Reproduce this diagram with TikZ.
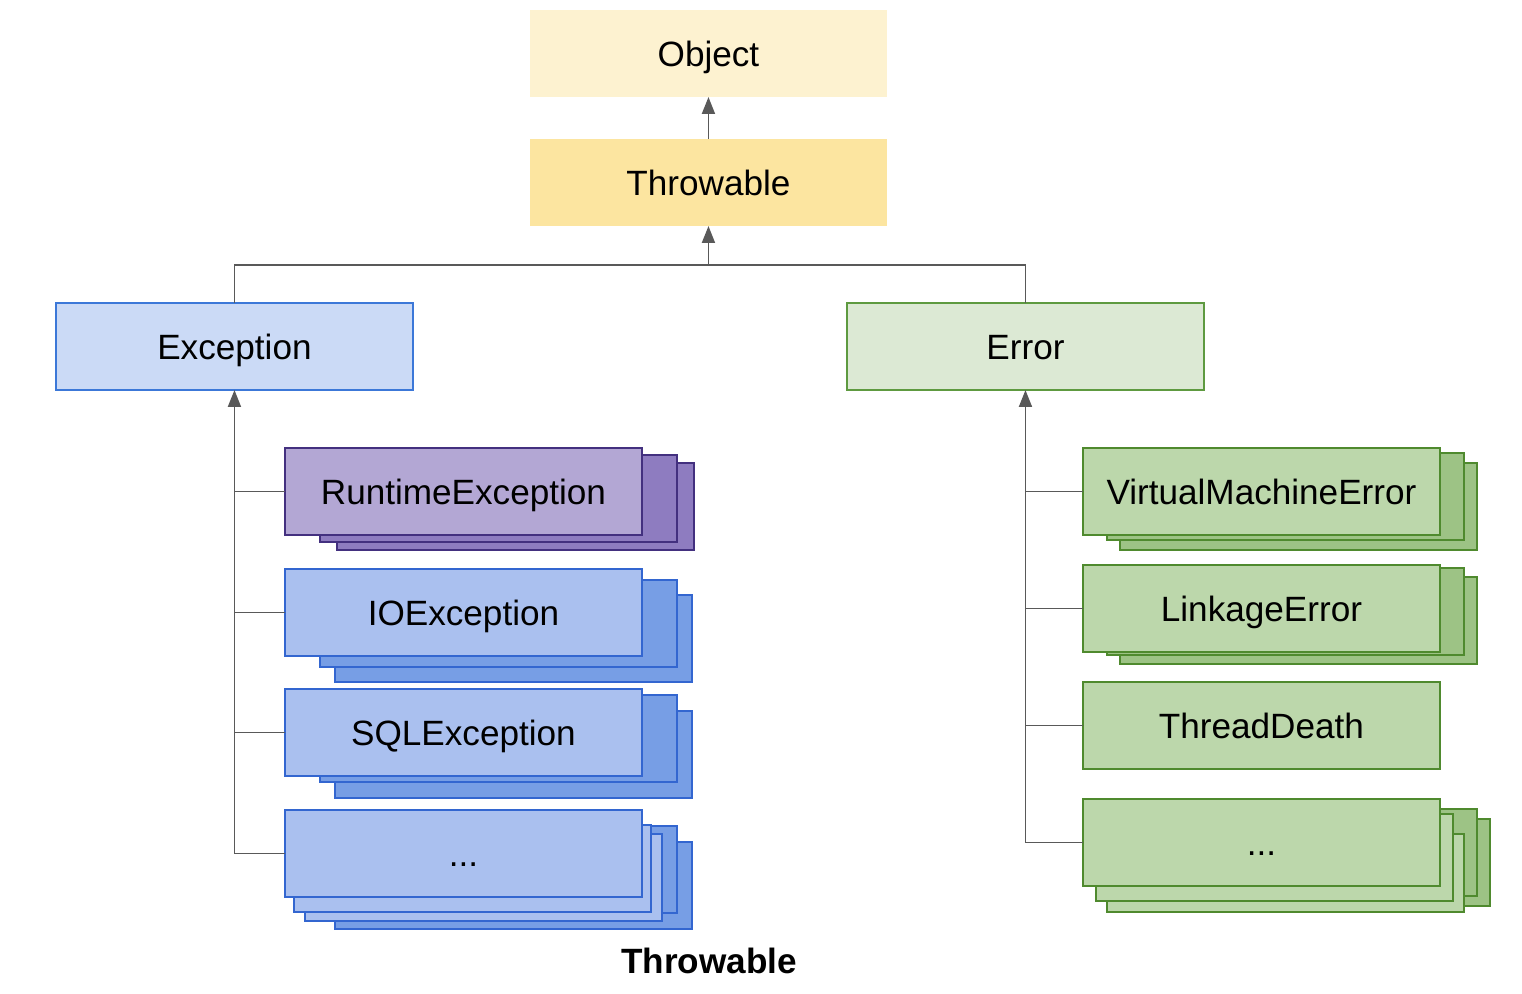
\documentclass[tikz,border=0pt]{standalone}
\usepackage{fontspec}
\setmainfont{Liberation Sans}
\usetikzlibrary{arrows.meta}
\definecolor{objfill}{HTML}{FDF2D0}
\definecolor{thrfill}{HTML}{FCE5A0}
\definecolor{excfill}{HTML}{CBDAF6}
\definecolor{excdraw}{HTML}{3C78D8}
\definecolor{errfill}{HTML}{DCE9D4}
\definecolor{errdraw}{HTML}{5E9A40}
\definecolor{purfront}{HTML}{B3A7D4}
\definecolor{purback}{HTML}{8E7CC0}
\definecolor{purdraw}{HTML}{43307F}
\definecolor{blufront}{HTML}{AAC0EF}
\definecolor{bluback}{HTML}{779EE5}
\definecolor{bludraw}{HTML}{3366D0}
\definecolor{grnfront}{HTML}{BCD7AB}
\definecolor{grnback}{HTML}{9DC385}
\definecolor{grndraw}{HTML}{4F8A2E}
\definecolor{linegray}{HTML}{595959}
\tikzset{
  box/.style={minimum width=7.14cm, minimum height=1.74cm, inner sep=0pt, outer sep=0pt,
    anchor=north west, line width=1.1pt, font=\fontsize{20}{24}\selectfont,
    text height=15pt, text depth=0pt},
  objbox/.style={box, fill=objfill},
  thrbox/.style={box, fill=thrfill},
  excbox/.style={box, fill=excfill, draw=excdraw},
  errbox/.style={box, fill=errfill, draw=errdraw},
  purF/.style={box, fill=purfront, draw=purdraw},
  purB/.style={box, fill=purback, draw=purdraw},
  bluF/.style={box, fill=blufront, draw=bludraw},
  bluB/.style={box, fill=bluback, draw=bludraw},
  grnF/.style={box, fill=grnfront, draw=grndraw},
  grnB/.style={box, fill=grnback, draw=grndraw},
  conn/.style={draw=linegray, line width=1.1pt},
  arr/.style={conn, -{Triangle[length=0.34cm, width=0.26cm]}},
}
\begin{document}
\begin{tikzpicture}[x=0.02cm, y=-0.02cm]
\useasboundingbox (0,0) rectangle (1522,994);

% top
\node[objbox] (obj) at (530,10) {Object};
\node[thrbox] (thr) at (530,139) {Throwable};
\node[excbox] (exc) at (56,303) {Exception};
\node[errbox] (err) at (847,303) {Error};

% RuntimeException stack
\node[purB] (rt3) at (337,463) {};
\node[purB] (rt2) at (320,455) {};
\node[purF] (rt) at (285,448) {RuntimeException};

% IOException stack
\node[bluB] (io3) at (335,595) {};
\node[bluB] (io2) at (320,580) {};
\node[bluF] (io) at (285,569) {IOException};

% SQLException stack
\node[bluB] (sql3) at (335,711) {};
\node[bluB] (sql2) at (320,695) {};
\node[bluF] (sql) at (285,689) {SQLException};

% left dots stack
\node[bluB] (ld5) at (335,842) {};
\node[bluB] (ld4) at (320,826) {};
\node[bluF] (ld3) at (305,834) {};
\node[bluF] (ld2) at (294,825) {};
\node[bluF] (ld) at (285,810) {...};

% VirtualMachineError stack
\node[grnB] (vm3) at (1120,463) {};
\node[grnB] (vm2) at (1107,453) {};
\node[grnF] (vm) at (1083,448) {VirtualMachineError};

% LinkageError stack
\node[grnB] (lk3) at (1120,577) {};
\node[grnB] (lk2) at (1107,568) {};
\node[grnF] (lk) at (1083,565) {LinkageError};

% ThreadDeath
\node[grnF] (td) at (1083,682) {ThreadDeath};

% right dots stack
\node[grnB] (rd5) at (1133,819) {};
\node[grnB] (rd4) at (1120,809) {};
\node[grnF, minimum height=1.56cm] (rd3) at (1107,834) {};
\node[grnF] (rd2) at (1096,814) {};
\node[grnF] (rd) at (1083,799) {...};

% title
\node[font=\fontsize{20}{24}\selectfont\bfseries] (title) at (709,961) {Throwable};

% connectors
\draw[arr] (thr.north) -- (obj.south);
\coordinate (bus) at (thr.south |- 0,265);
\draw[arr] (bus) -- (thr.south);
\draw[conn] (exc.north) |- (bus) -| (err.north);

\draw[arr] (ld.west -| exc.south) -- (exc.south);
\draw[conn] (rt.west) -- (rt.west -| exc.south);
\draw[conn] (io.west) -- (io.west -| exc.south);
\draw[conn] (sql.west) -- (sql.west -| exc.south);
\draw[conn] (ld.west) -- (ld.west -| exc.south);

\draw[arr] (rd.west -| err.south) -- (err.south);
\draw[conn] (vm.west) -- (vm.west -| err.south);
\draw[conn] (lk.west) -- (lk.west -| err.south);
\draw[conn] (td.west) -- (td.west -| err.south);
\draw[conn] (rd.west) -- (rd.west -| err.south);
\end{tikzpicture}
\end{document}
